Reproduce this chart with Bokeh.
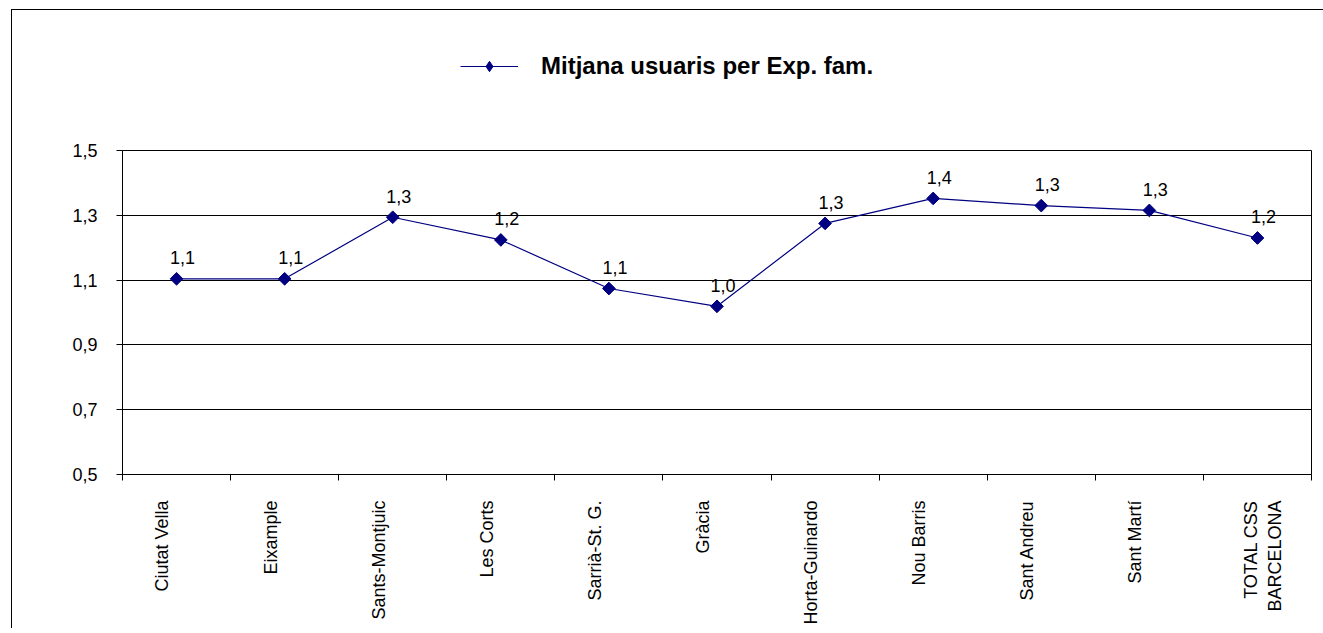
import math
from bokeh.plotting import figure
from bokeh.layouts import column
from bokeh.models import (ColumnDataSource, Range1d, FixedTicker, CustomJSTickFormatter,
                          Legend, LegendItem)
from bokeh.core.properties import value
from bokeh.embed import file_html
from bokeh.resources import INLINE

# ---- data ----
districts = ["Ciutat Vella", "Eixample", "Sants-Montjuic", "Les Corts", "Sarrià-St. G.",
             "Gràcia", "Horta-Guinardo", "Nou Barris", "Sant Andreu", "Sant Martí",
             "TOTAL CSS\nBARCELONA"]
mitjana = [1.104, 1.104, 1.294, 1.224, 1.074, 1.019, 1.275, 1.352, 1.330, 1.315, 1.230]
y_ticks = [0.5, 0.7, 0.9, 1.1, 1.3, 1.5]
series_name = "Mitjana usuaris per Exp. fam."

NAVY = "#000080"
FONT = "Liberation Sans"
W = 1311

xs = [i + 0.5 for i in range(len(districts))]
labels = [f"{v:.1f}".replace(".", ",") for v in mitjana]
src = ColumnDataSource(dict(x=xs, y=mitjana, lab=labels))

# ---- main chart ----
p = figure(width=W, height=492, x_range=Range1d(0, len(districts)),
           y_range=Range1d(y_ticks[0], y_ticks[-1]),
           output_backend="svg", toolbar_location=None,
           min_border_left=110, min_border_right=12, min_border_top=14, min_border_bottom=154)
p.background_fill_color = "white"
p.border_fill_color = "white"
p.outline_line_color = "black"
p.outline_line_alpha = 1.0

label_pos = [x - 0.13 for x in xs[:-1]] + [xs[-1] + 0.05]
xa = p.xaxis[0]
xa.ticker = FixedTicker(ticks=label_pos, minor_ticks=list(range(len(districts) + 1)))
xa.formatter = CustomJSTickFormatter(args=dict(names=districts),
                                     code="return names[Math.floor(tick)];")
xa.major_tick_in = 0
xa.major_tick_out = 0
xa.minor_tick_in = 0
xa.minor_tick_out = 6
xa.minor_tick_line_color = "black"
xa.axis_line_color = "black"
xa.major_label_orientation = math.pi / 2
xa.major_label_standoff = 20
xa.major_label_text_font = FONT
xa.major_label_text_font_size = "18px"
xa.major_label_text_color = "black"

ya = p.yaxis[0]
ya.ticker = FixedTicker(ticks=y_ticks)
ya.formatter = CustomJSTickFormatter(code="return tick.toFixed(1).replace('.', ',');")
ya.major_tick_in = 0
ya.major_tick_out = 6
ya.minor_tick_out = 0
ya.minor_tick_in = 0
ya.major_tick_line_color = "black"
ya.axis_line_color = "black"
ya.major_label_standoff = 19
ya.major_label_text_font = FONT
ya.major_label_text_font_size = "18px"
ya.major_label_text_color = "black"

p.xgrid.visible = False
p.ygrid.grid_line_color = "black"
p.ygrid.grid_line_alpha = 1.0
p.ygrid.grid_line_width = 1

line_kw = dict(line_color=NAVY, line_width=1.2)
p.line("x", "y", source=src, **line_kw)
p.scatter("x", "y", source=src, marker="square", angle=math.pi / 4, size=9,
          fill_color=NAVY, line_color=NAVY)
p.text("x", "y", text="lab", source=src, text_align="center", text_baseline="alphabetic",
       x_offset=6, y_offset=-21, text_font=value(FONT), text_font_size="18px",
       text_color="black")

# ---- legend strip above the chart (its ranges keep the series itself out of view) ----
lf = figure(width=W, height=126, x_range=Range1d(0, len(districts)), y_range=Range1d(10, 11),
            output_backend="svg", toolbar_location=None,
            min_border_left=0, min_border_right=0, min_border_top=0, min_border_bottom=0)
lf.axis.visible = False
lf.grid.visible = False
lf.outline_line_color = None
lf.background_fill_color = "white"
lf.border_fill_color = "white"
l_line = lf.line("x", "y", source=src, **line_kw)
l_mark = lf.scatter("x", "y", source=src, marker="diamond", size=15,
                    fill_color=NAVY, line_color=NAVY)
legend = Legend(items=[LegendItem(label=series_name, renderers=[l_line, l_mark])],
                location=(338, 56), border_line_alpha=0, background_fill_alpha=0,
                padding=0, margin=0, glyph_width=58, glyph_height=26, label_height=26,
                label_standoff=23, label_text_font=FONT, label_text_font_size="24px",
                label_text_font_style="bold", label_text_color="black")
lf.add_layout(legend)

layout = column(lf, p, spacing=0,
                styles={"border-left": "1px solid black", "border-top": "1px solid black",
                        "margin-left": "11px", "margin-top": "9px"})

open("out.html", "w").write(file_html(layout, INLINE))
